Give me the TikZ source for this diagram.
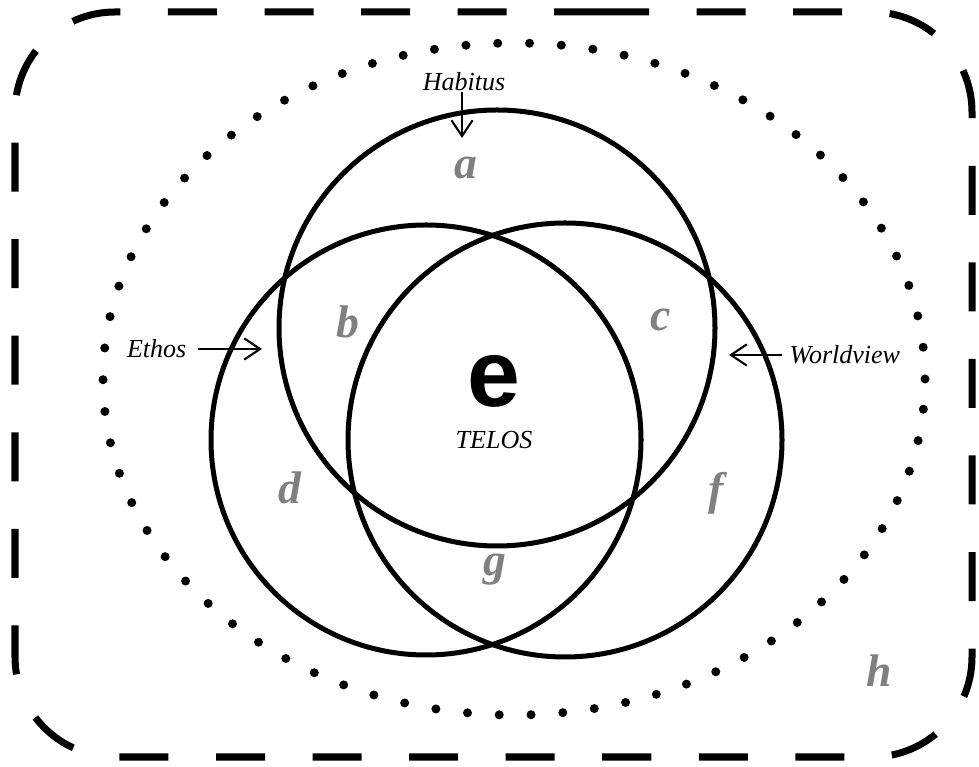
\documentclass[tikz,border=0pt]{standalone}
\usepackage{fontspec}
\setmainfont{Liberation Serif}
\newfontfamily\bigsans{Liberation Sans}
\usetikzlibrary{arrows.meta}

\tikzset{
  ring/.style={line width=0.05cm},
  zone/.style={text=gray, font=\fontsize{13}{13}\selectfont\bfseries\itshape},
  tag/.style={font=\fontsize{7.4}{8}\selectfont\itshape, inner sep=0pt},
  pointer/.style={line width=0.6pt, -{Straight Barb[length=4.5pt,width=6pt]}},
}

\begin{document}
\begin{tikzpicture}[line join=round,x=0.01cm,y=0.01cm]
  \useasboundingbox (0,0) rectangle (979,767);
  % Rahmen
  \draw[line width=0.07cm, dash pattern=on 0.49cm off 0.475cm, rounded corners=1cm]
    (500,755) -- (972,755) -- (972,10) -- (15,10) -- (15,755) -- cycle;
  % Ellipse
  \draw[line width=0.09cm, line cap=round, dash pattern=on 0pt off 0.318cm]
    (514,388) ellipse (411 and 336);
  % Kreise
  \draw[ring] (497,439) circle (218);
  \draw[ring] (426,327) circle (215);
  \draw[ring] (565,327) circle (217);
  % Felder
  \node[zone] (a) at (466,599) {a};
  \node[zone] (b) at (348,445) {b};
  \node[zone] (c) at (661,447) {c};
  \node[zone] (d) at (290,279) {d};
  \node[zone] (f) at (716,274) {f};
  \node[zone] (g) at (495,197) {g};
  \node[zone] (h) at (879,96) {h};
  \node[font=\bigsans\bfseries\fontsize{27}{27}\selectfont] (e) at (494,386) {e};
  \node[tag] (telos) at (494,327) {TELOS};
  % Pfeile
  \node[tag] (habitus) at (464,685) {Habitus};
  \coordinate (habitus end) at (462,629);
  \draw[pointer] (habitus.south -| habitus end) -- (habitus end);
  \node[tag, anchor=east] (ethos) at (187,418) {Ethos};
  \coordinate (ethos end) at (262,418);
  \draw[pointer, shorten <=0.11cm] (ethos.east) -- (ethos end);
  \node[tag, anchor=west] (worldview) at (789,412) {Worldview};
  \coordinate (worldview end) at (729,412);
  \draw[pointer, shorten <=0.07cm] (worldview.west) -- (worldview end);
\end{tikzpicture}
\end{document}
